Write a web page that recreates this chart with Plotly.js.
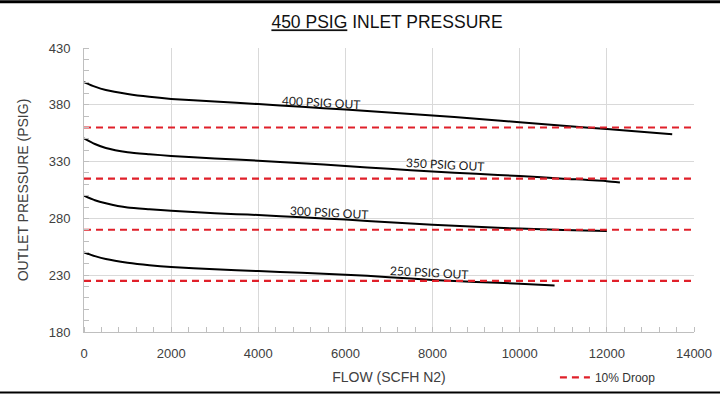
<!DOCTYPE html>
<html>
<head>
<meta charset="utf-8">
<script src="https://cdn.plot.ly/plotly-3.0.1.min.js"></script>
<style>html,body{margin:0;padding:0;background:#fff;}#chart{width:720px;height:404px;}</style>
</head>
<body>
<div id="chart"></div>
<script>
// Flow values (SCFH N2) and outlet pressures (PSIG)
const flow400 = [0, 250, 500, 1000, 1500, 2000, 3000, 4000, 5000, 6000, 7000, 8000, 9000, 10000, 11000, 12000, 13500];
const p400    = [400, 396, 393, 389.5, 387, 385.2, 382.8, 380.6, 378.2, 375.8, 373.3, 370.6, 367.7, 364.7, 361.6, 358.6, 354];

const flow350 = [0, 250, 500, 1000, 1500, 2000, 3000, 4000, 5000, 6000, 7000, 8000, 9000, 10000, 11000, 12000, 12300];
const p350    = [350.5, 345.5, 342, 338.3, 336.5, 335, 332.8, 330.8, 328.6, 326.2, 323.6, 321.2, 319.3, 317.3, 315, 312.8, 311.6];

const flow300 = [0, 250, 500, 1000, 1500, 2000, 3000, 3500, 4000, 5000, 6000, 7000, 8000, 9000, 10000, 11000, 12000];
const p300    = [300, 296, 293.3, 289.5, 288, 286.8, 284.6, 283.7, 283, 281, 279, 276.6, 274.4, 272.6, 271, 269.8, 268.9];

const flow250 = [0, 250, 500, 1000, 1500, 2000, 3000, 4000, 5000, 6000, 7000, 8000, 9000, 10000, 10800];
const p250    = [250, 246.8, 244.2, 241, 238.8, 237.2, 235.2, 233.6, 232.1, 230.5, 228.3, 225.8, 224, 222.5, 221];

// 10% droop levels
const droopLevels = [360, 315, 270, 225];
const droopFlow = [0, 14000];

const curveLabels = ["400 PSIG OUT", "350 PSIG OUT", "300 PSIG OUT", "250 PSIG OUT"];
const labelFlow = [5440, 8274, 5623, 7918];
const labelPress = [382.4, 327.3, 285.6, 232];

const xTicks = [0, 2000, 4000, 6000, 8000, 10000, 12000, 14000];
const yTicks = [180, 230, 280, 330, 380, 430];

const traces = [];
const curves = [[flow400, p400], [flow350, p350], [flow300, p300], [flow250, p250]];
curves.forEach((c, i) => {
  traces.push({
    x: c[0], y: c[1], type: 'scatter', mode: 'lines',
    line: {color: '#000000', width: 2, shape: 'spline', smoothing: 0.6},
    showlegend: false, hoverinfo: 'skip', name: curveLabels[i]
  });
});
droopLevels.forEach((lv, i) => {
  traces.push({
    x: droopFlow, y: [lv, lv], type: 'scatter', mode: 'lines',
    line: {color: '#e0202a', width: 2.2, dash: '7px,5px'},
    name: '10% Droop', showlegend: i === 0, hoverinfo: 'skip'
  });
});

const annotations = curveLabels.map((t, i) => ({
  x: labelFlow[i], y: labelPress[i], xref: 'x', yref: 'y',
  text: t, showarrow: false, textangle: 3,
  font: {family: 'Lato, "Open Sans", sans-serif', size: 12, color: '#1a1a1a'}
}));

const layout = {
  width: 720, height: 404,
  margin: {l: 84, r: 26, t: 48, b: 68},
  paper_bgcolor: '#ffffff', plot_bgcolor: '#ffffff',
  font: {family: '"Liberation Sans", Arial, sans-serif', color: '#404040'},
  title: {
    text: '<span style="text-decoration:underline">450 PSIG</span> INLET PRESSURE',
    font: {family: '"Liberation Sans", Arial, sans-serif', size: 17.5, color: '#111111'},
    x: 0.5375, xanchor: 'center', y: 0.945, yanchor: 'middle'
  },
  xaxis: {
    range: [0, 14000], tickvals: xTicks, ticktext: xTicks.map(String),
    showgrid: true, gridcolor: '#d9d9d9', gridwidth: 1,
    showline: true, linecolor: '#bfbfbf', linewidth: 1, mirror: false,
    ticks: '', zeroline: false,
    minor: {dtick: 400, ticks: 'inside', ticklen: 5, tickcolor: '#bfbfbf', showgrid: false},
    tickfont: {size: 13, color: '#404040'}, ticklabelstandoff: 9,
    title: {text: 'FLOW (SCFH N2)', font: {size: 14, color: '#404040'}, standoff: 12}
  },
  yaxis: {
    range: [180, 430], tickvals: yTicks, ticktext: yTicks.map(String),
    showgrid: true, gridcolor: '#d9d9d9', gridwidth: 1,
    showline: true, linecolor: '#bfbfbf', linewidth: 1,
    ticks: '', zeroline: false,
    minor: {dtick: 10, ticks: 'inside', ticklen: 5, tickcolor: '#bfbfbf', showgrid: false},
    tickfont: {size: 13, color: '#404040'}, ticklabelstandoff: 10,
    title: {text: 'OUTLET PRESSURE (PSIG)', font: {size: 14, color: '#404040'}, standoff: 16}
  },
  legend: {
    x: 0.772, xanchor: 'left', y: -0.16, yanchor: 'middle',
    orientation: 'h', bgcolor: 'rgba(0,0,0,0)',
    font: {size: 12, color: '#333333'}
  },
  annotations: annotations,
  shapes: [
    {type: 'line', xref: 'paper', yref: 'paper', x0: -0.2, x1: 1.2, y0: 1.163, y1: 1.163, line: {color: '#000000', width: 3}},
    {type: 'line', xref: 'paper', yref: 'paper', x0: -0.2, x1: 1.2, y0: -0.213, y1: -0.213, line: {color: '#000000', width: 2}}
  ]
};

Plotly.newPlot('chart', traces, layout, {staticPlot: true, displayModeBar: false});
</script>
</body>
</html>
